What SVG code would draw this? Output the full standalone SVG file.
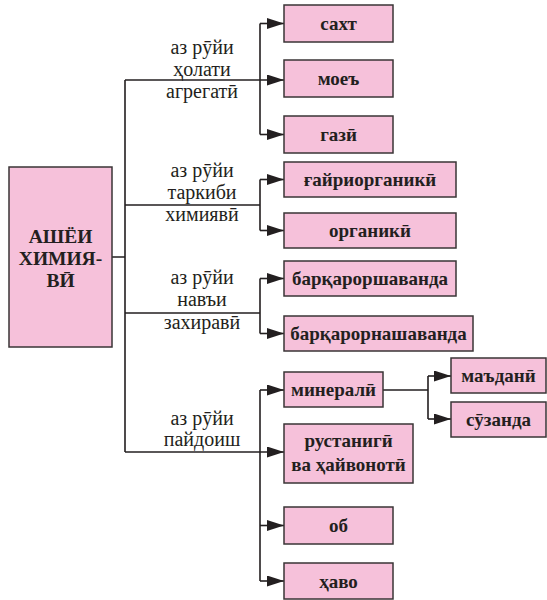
<svg xmlns="http://www.w3.org/2000/svg" width="547" height="600" viewBox="0 0 547 600">
<style>
.box{fill:#f6c1da;stroke:#3a3536;stroke-width:1.5}
.bt{font-family:'Liberation Serif','DejaVu Serif',serif;font-weight:bold;font-size:19px;fill:#231f20;text-anchor:middle}
.rt{font-family:'Liberation Serif','DejaVu Serif',serif;font-weight:bold;font-size:19.5px;fill:#231f20;text-anchor:middle}
.lt{font-family:'Liberation Serif','DejaVu Serif',serif;font-size:20px;fill:#231f20;text-anchor:middle}
.ln{fill:none;stroke:#231f20;stroke-width:1.6}
</style>
<defs>
<marker id="ah" markerUnits="userSpaceOnUse" markerWidth="17" markerHeight="11" refX="17" refY="5.5" orient="auto">
<path d="M0,0 L17,5.5 L0,11 z" fill="#231f20"/>
</marker>
</defs>
<rect width="547" height="600" fill="#fff"/>
<g id="connectors">
<path class="ln" d="M112,257 H125 M125,80 V452"/>
<path class="ln" d="M260,23.5 V134.5"/>
<path class="ln" d="M125,80 H284" marker-end="url(#ah)"/>
<path class="ln" d="M260,23.5 H284" marker-end="url(#ah)"/>
<path class="ln" d="M260,134.5 H284" marker-end="url(#ah)"/>
<path class="ln" d="M125,205 H260 M260,179.5 V230.5"/>
<path class="ln" d="M260,179.5 H284" marker-end="url(#ah)"/>
<path class="ln" d="M260,230.5 H284" marker-end="url(#ah)"/>
<path class="ln" d="M125,313 H260 M260,278.5 V333.5"/>
<path class="ln" d="M260,278.5 H284" marker-end="url(#ah)"/>
<path class="ln" d="M260,333.5 H284" marker-end="url(#ah)"/>
<path class="ln" d="M260,390 V581"/>
<path class="ln" d="M125,452 H284" marker-end="url(#ah)"/>
<path class="ln" d="M260,390 H284" marker-end="url(#ah)"/>
<path class="ln" d="M260,525.5 H284" marker-end="url(#ah)"/>
<path class="ln" d="M260,581 H284" marker-end="url(#ah)"/>
<path class="ln" d="M383,390 H428 M428,376 V419"/>
<path class="ln" d="M428,376 H451" marker-end="url(#ah)"/>
<path class="ln" d="M428,419 H451" marker-end="url(#ah)"/>
</g>
<g id="labels">
<text class="lt" x="202" y="54">аз рӯйи</text>
<text class="lt" x="202" y="76">ҳолати</text>
<text class="lt" x="202" y="98">агрегатӣ</text>
<text class="lt" x="202" y="177">аз рӯйи</text>
<text class="lt" x="202" y="199">таркиби</text>
<text class="lt" x="202" y="221">химиявӣ</text>
<text class="lt" x="202" y="284">аз рӯйи</text>
<text class="lt" x="202" y="306">навъи</text>
<text class="lt" x="202" y="329">захиравӣ</text>
<text class="lt" x="202" y="425">аз рӯйи</text>
<text class="lt" x="202" y="446">пайдоиш</text>
</g>
<g id="root">
<rect class="box" x="9" y="167" width="103" height="180"/>
<text class="rt" x="60.5" y="243">АШЁИ</text>
<text class="rt" x="60.5" y="265">ХИМИЯ-</text>
<text class="rt" x="60.5" y="287">ВӢ</text>
</g>
<g id="sakht"><rect class="box" x="284" y="5" width="109" height="37"/><text class="bt" x="338.5" y="30">сахт</text></g>
<g id="moe"><rect class="box" x="284" y="60" width="109" height="37"/><text class="bt" x="338.5" y="85">моеъ</text></g>
<g id="gazi"><rect class="box" x="284" y="116" width="109" height="37"/><text class="bt" x="338.5" y="141">газӣ</text></g>
<g id="ghayriorganiki"><rect class="box" x="284" y="162" width="172" height="35"/><text class="bt" x="370" y="186">ғайриорганикӣ</text></g>
<g id="organiki"><rect class="box" x="284" y="213" width="172" height="35"/><text class="bt" x="370" y="237">органикӣ</text></g>
<g id="barqarorshavanda"><rect class="box" x="284" y="261" width="172" height="35"/><text class="bt" x="370" y="285">барқароршаванда</text></g>
<g id="barqarornashavanda"><rect class="box" x="284" y="316" width="189" height="35"/><text class="bt" x="378.5" y="340">барқарорнашаванда</text></g>
<g id="minerali"><rect class="box" x="284" y="372" width="99" height="35"/><text class="bt" x="333.5" y="396">минералӣ</text></g>
<g id="madani"><rect class="box" x="451" y="358" width="95" height="35"/><text class="bt" x="498.5" y="382">маъданӣ</text></g>
<g id="suzanda"><rect class="box" x="451" y="402" width="95" height="35"/><text class="bt" x="498.5" y="426">сӯзанда</text></g>
<g id="rustanigi"><rect class="box" x="284" y="424" width="129" height="59"/><text class="bt" x="348.5" y="447">рустанигӣ</text><text class="bt" x="348.5" y="471">ва ҳайвонотӣ</text></g>
<g id="ob"><rect class="box" x="284" y="507" width="109" height="37"/><text class="bt" x="338.5" y="532">об</text></g>
<g id="havo"><rect class="box" x="284" y="563" width="109" height="36"/><text class="bt" x="338.5" y="587.5">ҳаво</text></g>
</svg>
